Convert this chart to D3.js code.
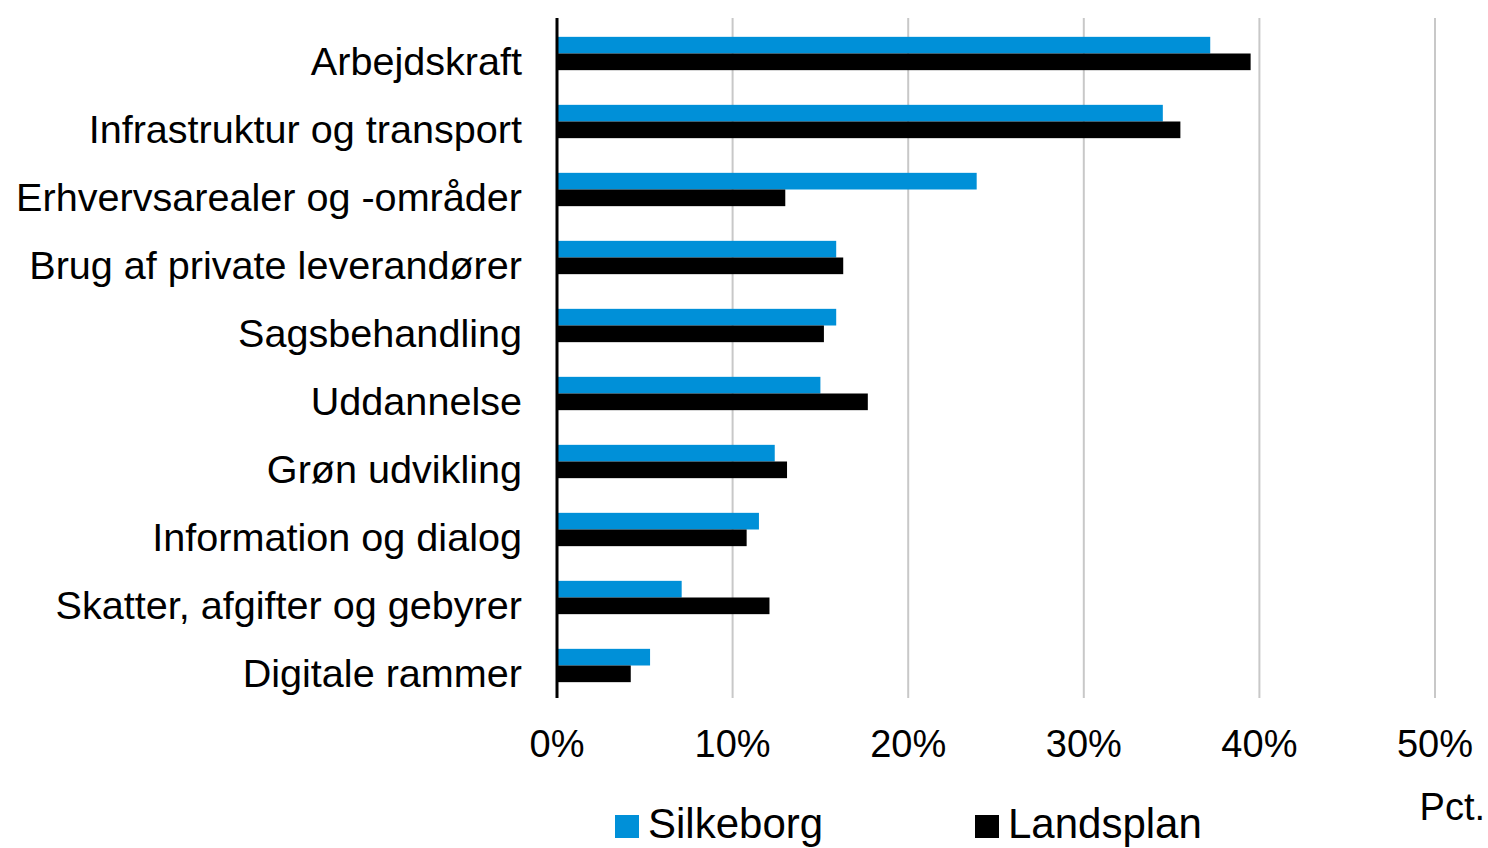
<!DOCTYPE html>
<html>
<head>
<meta charset="utf-8">
<script src="https://cdn.jsdelivr.net/npm/d3@7"></script>
<style>
  html, body { margin: 0; padding: 0; background: #fff; }
  svg { display: block; font-family: "Liberation Sans", Arial, sans-serif; }
</style>
</head>
<body>
<div id="chart"></div>
<script>
(function () {
    'use strict';

    // ── data ─────────────────────────────────────────────────────────────
    const categories = [
        'Arbejdskraft',
        'Infrastruktur og transport',
        'Erhvervsarealer og -områder',
        'Brug af private leverandører',
        'Sagsbehandling',
        'Uddannelse',
        'Grøn udvikling',
        'Information og dialog',
        'Skatter, afgifter og gebyrer',
        'Digitale rammer'
    ];
    const silkeborg = [37.2, 34.5, 23.9, 15.9, 15.9, 15.0, 12.4, 11.5, 7.1, 5.3];
    const landsplan = [39.5, 35.5, 13.0, 16.3, 15.2, 17.7, 13.1, 10.8, 12.1, 4.2];
    const seriesNames = ['Silkeborg', 'Landsplan'];
    const seriesColors = ['#0090d8', '#000000'];
    const xTicks = [0, 10, 20, 30, 40, 50];

    const W = 1488, H = 848;
    const m = { left: 557, top: 19.5, right: 53, bottom: 148.5 };

    const svg = d3.select('#chart').append('svg')
        .attr('width', W).attr('height', H);

    const x = d3.scaleLinear().domain([0, 50]).range([m.left, W - m.right]);
    const y = d3.scaleBand().domain(categories)
        .range([m.top, H - m.bottom])
        .paddingInner(0.51).paddingOuter(0.255);
    const ySub = d3.scaleBand().domain(seriesNames).range([0, y.bandwidth()]);

    // ── gridlines ────────────────────────────────────────────────────────
    svg.append('g').selectAll('line')
        .data(xTicks.slice(1))
        .enter().append('line')
        .attr('x1', d => x(d)).attr('x2', d => x(d))
        .attr('y1', 18).attr('y2', 698)
        .attr('stroke', '#c8c8c8').attr('stroke-width', 2);

    // ── bars ─────────────────────────────────────────────────────────────
    const rows = categories.map((c, i) => ({ c, vals: [silkeborg[i], landsplan[i]] }));
    const grp = svg.append('g').selectAll('g')
        .data(rows).enter().append('g')
        .attr('transform', d => `translate(0,${y(d.c)})`);

    grp.selectAll('rect')
        .data(d => d.vals.map((v, k) => ({ v, k })))
        .enter().append('rect')
        .attr('x', x(0))
        .attr('y', d => ySub(seriesNames[d.k]))
        .attr('width', d => x(d.v) - x(0))
        .attr('height', ySub.bandwidth())
        .attr('fill', d => seriesColors[d.k]);

    // ── category labels ──────────────────────────────────────────────────
    svg.append('g').selectAll('text')
        .data(categories).enter().append('text')
        .attr('x', 522)
        .attr('y', d => y(d) + y.bandwidth() / 2 + 21)
        .attr('text-anchor', 'end')
        .style('font-size', '39.6px')
        .style('fill', '#000')
        .text(d => d);

    // ── y axis line ──────────────────────────────────────────────────────
    svg.append('line')
        .attr('x1', x(0)).attr('x2', x(0))
        .attr('y1', 18).attr('y2', 698)
        .attr('stroke', '#000').attr('stroke-width', 3);

    // ── x tick labels ────────────────────────────────────────────────────
    svg.append('g').selectAll('text')
        .data(xTicks).enter().append('text')
        .attr('x', d => x(d))
        .attr('y', 757)
        .attr('text-anchor', 'middle')
        .style('font-size', '38px')
        .style('fill', '#000')
        .text(d => d + '%');

    svg.append('text')
        .attr('x', 1485).attr('y', 820)
        .attr('text-anchor', 'end')
        .style('font-size', '38px')
        .text('Pct.');

    // ── legend ───────────────────────────────────────────────────────────
    const legendX = [615, 975];
    const leg = svg.append('g').selectAll('g')
        .data(seriesNames).enter().append('g')
        .attr('transform', (d, i) => `translate(${legendX[i]},815)`);
    leg.append('rect')
        .attr('width', 24).attr('height', 23)
        .attr('fill', (d, i) => seriesColors[i]);
    leg.append('text')
        .attr('x', 33).attr('y', 23)
        .style('font-size', '42px')
        .text(d => d);
})();
</script>
</body>
</html>
